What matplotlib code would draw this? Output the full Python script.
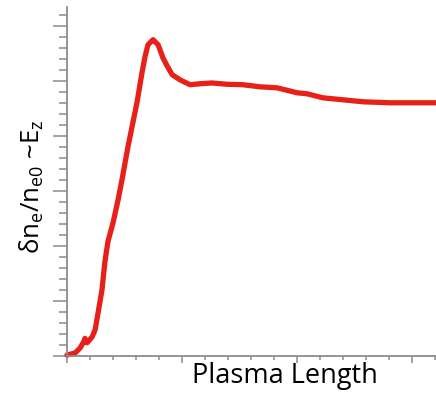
import numpy as np
import matplotlib
matplotlib.use('Agg')
import matplotlib.pyplot as plt
from matplotlib.ticker import MultipleLocator

plt.rcParams['mathtext.fontset'] = 'custom'
plt.rcParams['mathtext.rm'] = 'Open Sans'
plt.rcParams['mathtext.it'] = 'Open Sans'
plt.rcParams['mathtext.default'] = 'rm'

# curve (arbitrary units)
plasma_len = [0.0, 0.35, 0.57, 0.74, 0.78, 0.87, 1.09, 1.22, 1.35, 1.52,
              1.65, 1.78, 2.0, 2.22, 2.39, 2.65, 3.04, 3.26, 3.39, 3.52,
              3.74, 3.96, 4.17, 4.35, 4.57, 4.91, 5.35, 5.78, 6.3, 6.96,
              7.65, 8.39, 9.13, 10.0, 10.43, 11.13, 12.0, 12.87, 14.04,
              15.48, 16.04]
field = [0.09, 0.27, 0.73, 1.35, 1.6, 1.2, 1.73, 2.36, 3.91, 6.0,
         8.6, 10.4, 12.09, 14.18, 16.0, 19.0, 23.0, 25.73, 27.18, 28.27,
         28.73, 28.27, 27.09, 26.36, 25.55, 25.09, 24.64, 24.73, 24.8, 24.68,
         24.64, 24.45, 24.36, 23.91, 23.82, 23.45, 23.27, 23.09, 23.0,
         23.0, 23.0]

fig = plt.figure(figsize=(4.36, 3.93), dpi=100)
ax = fig.add_axes([67 / 436, 37 / 393, 369 / 436, 349 / 393])

ax.plot(plasma_len, field, color='#e8201a', lw=3.8,
        solid_capstyle='round', solid_joinstyle='round', clip_on=False)

ax.set_xlim(0, 16.04)
ax.set_ylim(0, 31.7)
ax.spines['top'].set_visible(False)
ax.spines['right'].set_visible(False)
for s in ['left', 'bottom']:
    ax.spines[s].set_color('#8c8c8c')
    ax.spines[s].set_linewidth(1.3)

ax.xaxis.set_major_locator(MultipleLocator(5))
ax.xaxis.set_minor_locator(MultipleLocator(1))
ax.yaxis.set_major_locator(MultipleLocator(5))
ax.yaxis.set_minor_locator(MultipleLocator(1))
ax.tick_params(which='both', color='#8c8c8c', width=1.1,
               labelbottom=False, labelleft=False)
ax.tick_params(axis='x', which='major', length=5)
ax.tick_params(axis='x', which='minor', length=3)
ax.tick_params(axis='y', which='major', length=10)
ax.tick_params(axis='y', which='minor', length=6)

fig.text(285 / 436, 1 - 383 / 393, 'Plasma Length', family='Open Sans',
         fontsize=19.5, ha='center', va='baseline')
fig.text(32 / 436, 1 - 187 / 393, r'δn$_e$/n$_{e0}$ ~E$_z$',
         family='Open Sans', fontsize=18.5, rotation=90,
         ha='center', va='center')

fig.savefig('out.png', dpi=100)
